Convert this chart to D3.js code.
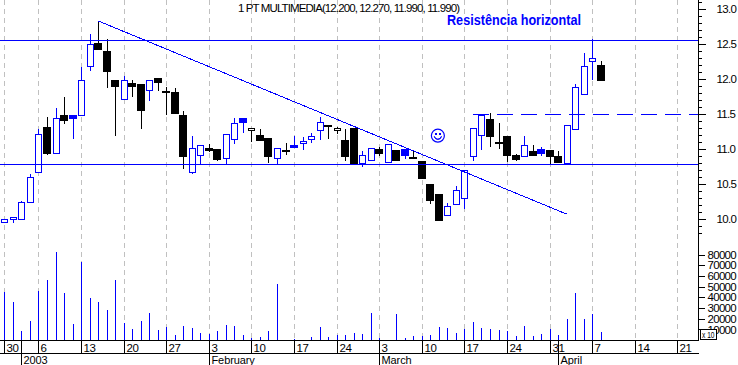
<!DOCTYPE html>
<html><head><meta charset="utf-8">
<script src="https://cdn.jsdelivr.net/npm/d3@7"></script>
<style>
html,body{margin:0;padding:0;background:#fff;overflow:hidden}
svg{display:block}
text{font-family:"Liberation Sans",Arial,sans-serif;fill:#000}
</style></head><body>
<svg id="c" width="738" height="365"></svg>
<script>
const opens =[9.953,9.996,9.996,10.24,10.67,11.31,10.94,11.49,11.445,11.48,12.19,12.51,12.40,11.99,11.72,11.95,11.93,11.85,12.02,11.83,11.81,11.49,10.67,10.91,11.01,11.0,10.865,11.14,11.39,
 11.265,11.198,11.155,10.875,10.99,11.03,11.08,11.146,11.265,11.35,11.265,11.135,11.30,10.80,10.85,11.0,10.81,10.98,10.91,10.88,10.827,10.50,10.358,10.05,10.215,10.30,10.894,11.207,11.426,
 11.095,11.18,10.91,10.895,10.97,10.94,10.985,10.90,10.80,11.29,11.79,12.26,12.20];
const closes=[9.996,10.025,10.24,10.595,11.21,10.94,11.44,11.42,11.49,11.99,12.50,12.43,12.11,11.90,11.99,11.90,11.55,11.99,11.96,11.82,11.52,10.90,11.02,11.05,10.985,10.86,11.21,11.365,11.44,
 11.293,11.127,10.90,11.008,10.97,11.05,11.12,11.18,11.38,11.335,11.293,10.90,10.80,10.91,11.008,10.946,11.065,10.846,10.994,10.875,10.59,10.277,9.99,10.18,10.41,10.695,11.293,11.483,11.19,
 11.08,10.92,10.86,11.05,10.91,10.995,10.90,10.82,11.35,11.89,12.19,12.30,11.99];
const highs =[9.996,10.025,10.27,10.66,11.30,11.47,11.60,11.75,11.49,12.19,12.65,12.83,12.58,12.0,12.05,12.0,11.95,11.99,12.02,11.90,11.88,11.55,11.2,11.05,11.08,11.01,11.21,11.455,11.44,
 11.293,11.30,11.155,11.008,11.10,11.2,11.18,11.24,11.47,11.35,11.325,11.30,11.30,10.99,11.008,11.04,11.065,10.98,11.02,10.994,10.827,10.50,10.358,10.25,10.486,10.695,11.293,11.483,11.526,
 11.38,11.18,10.94,11.2,11.07,11.04,10.995,10.985,11.35,11.95,12.38,12.58,12.27];
const lows  =[9.953,9.963,9.996,10.24,10.67,10.93,10.94,11.37,11.16,11.48,12.13,12.43,11.88,11.2,11.72,11.75,11.30,11.70,11.84,11.5,11.52,10.73,10.65,10.80,10.97,10.85,10.80,11.09,11.245,
 11.12,11.127,10.82,10.80,10.93,11.03,11.0,11.10,11.146,11.155,11.23,10.85,10.80,10.76,10.85,10.91,10.81,10.846,10.866,10.875,10.59,10.235,9.99,10.05,10.215,10.163,10.85,11.0,11.046,
 11.01,10.83,10.84,10.895,10.91,10.92,10.80,10.82,10.80,11.29,11.79,11.995,11.99];
const kinds =["uuuuu","d","u","d","f","uu","ddd","u","dd","u","dddd","uu","dd","uu","f",
 "h","dd","u","d","f","uuu","d","h","dd","uu","d","u","d","f","dddd","uuuuu","d",
 "ddd","u","d","f","dd","uuuu","d"].join("");
const volumes=[45000,35400,8400,17700,45650,55900,82000,43800,14900,72700,39100,35400,28000,55900,15800,10200,17700,25200,9300,12100,4700,13000,11200,6500,5600,8400,14000,13000,4700,
 1600,2800,8400,52200,0,900,0,2800,12100,2800,4700,4700,6500,5600,25200,1900,0,24200,1900,3700,3700,4700,12100,11200,6500,10200,16800,11200,10200,
 9300,8400,3700,13000,3700,5600,10200,4700,19600,43800,19600,24200,7500];
const weekIndex =[0,4,9,14,19,24,29,34,39,44,49,54,59,64,69,74,79];
const weekLabels=["30","6","13","20","27","3","10","17","24","3","10","17","24","31","7","14","21"];
const monthIndex =[2,24,44,65];
const monthLabels=["2003","February","March","April"];
const priceTicks=[10,10.5,11,11.5,12,12.5,13];
const minorPriceTicks=d3.range(98,132).map(d=>d/10);
const volumeTicks=[10000,20000,30000,40000,50000,60000,70000,80000];
const hLevels=[12.55,10.78];
const dashedLevel={from:55,value:11.5};
const trend=[{i:11,v:12.83},{i:66,v:10.07}];
const smile={i:51,v:11.19};
const titleText="1 PT MULTIMEDIA(12.200, 12.270, 11.990, 11.990)";
const noteText="Resistência horizontal";

const BLUE="#0000ff", W=699, BASE=340;
const svg=d3.select("#c");
const x=d3.scaleLinear().domain([0,79]).range([4.4,677.4]);
const y=d3.scaleLinear().domain([10,13]).range([219,9]);
const v=d3.scaleLinear().domain([0,80000]).range([BASE,254.5]);
const px=i=>Math.round(x(i))+0.5;
const py=d=>Math.round(y(d))+0.5;

svg.append("g").selectAll("line").data(weekIndex).join("line")
 .attr("x1",px).attr("x2",px).attr("y1",0).attr("y2",BASE)
 .attr("stroke","#c0c0c0").attr("stroke-dasharray","5,4");

// volume
svg.append("g").selectAll("line").data(volumes).join("line")
 .attr("x1",(d,i)=>px(i)).attr("x2",(d,i)=>px(i))
 .attr("y1",BASE).attr("y2",d=>Math.round(v(d)))
 .attr("stroke",BLUE);

// candles
const idx=d3.range(opens.length);
const colour=i=>(kinds[i]==="u"||kinds[i]==="f")?BLUE:"#000";
const cg=svg.append("g");
cg.selectAll("line").data(idx).join("line")
 .attr("x1",px).attr("x2",px)
 .attr("y1",i=>py(highs[i])).attr("y2",i=>py(lows[i]))
 .attr("stroke",colour);
cg.selectAll("rect").data(idx).join("rect")
 .attr("x",i=>{const w=(kinds[i]==="d"||kinds[i]==="f")?4:3;return px(i)-w;})
 .attr("width",i=>(kinds[i]==="d"||kinds[i]==="f")?7:6)
 .attr("y",i=>py(Math.max(opens[i],closes[i])))
 .attr("height",i=>Math.max(1,py(Math.min(opens[i],closes[i]))-py(Math.max(opens[i],closes[i]))))
 .attr("fill",i=>kinds[i]==="d"?"#000":kinds[i]==="f"?BLUE:"#fff")
 .attr("stroke",colour);

// trend and levels
svg.append("g").selectAll("line").data(hLevels).join("line")
 .attr("x1",0).attr("x2",W).attr("y1",py).attr("y2",py).attr("stroke",BLUE);
svg.append("line").attr("x1",x(trend[0].i)).attr("y1",y(trend[0].v))
 .attr("x2",x(trend[1].i)).attr("y2",y(trend[1].v)).attr("stroke",BLUE);
svg.append("line").attr("x1",x(dashedLevel.from)).attr("x2",W)
 .attr("y1",py(dashedLevel.value)).attr("y2",py(dashedLevel.value))
 .attr("stroke",BLUE).attr("stroke-dasharray","16,8");

// smiley
const sm=svg.append("g").attr("transform",`translate(${x(smile.i)-1},${y(smile.v)})`)
 .attr("fill","none").attr("stroke",BLUE);
sm.append("circle").attr("r",6.5).attr("stroke-width",1.2);
sm.append("path").attr("d",d3.arc()({innerRadius:3.6,outerRadius:3.6,startAngle:Math.PI/2+0.2,endAngle:Math.PI*1.5-0.2}));
sm.selectAll("rect").data([-2.5,1.5]).join("rect").attr("x",d=>d).attr("y",-3).attr("width",1.5).attr("height",2)
 .attr("fill",BLUE).attr("stroke","none");

// right axes
const axisG=svg.append("g").attr("transform",`translate(${W-0.5},0)`);
axisG.append("line").attr("y1",0).attr("y2",BASE).attr("stroke","#000");
const minorAxis=d3.axisRight(y).tickValues(minorPriceTicks).tickSize(3).tickFormat("");
const pa=axisG.append("g").call(minorAxis);
pa.select(".domain").remove();
const majorAxis=d3.axisRight(y).tickValues(priceTicks).tickSize(7).tickPadding(11).tickFormat(d3.format(".1f"));
const pb=axisG.append("g").call(majorAxis);
pb.select(".domain").remove();
const volAxis=d3.axisRight(v).tickValues(volumeTicks).tickSize(6).tickPadding(3).tickFormat(d3.format("d"));
const vb=axisG.append("g").call(volAxis);
vb.select(".domain").remove();
axisG.selectAll("text").attr("font-size",11.5).attr("letter-spacing","-0.7px").attr("font-family",'"Liberation Sans"');
axisG.selectAll("line").attr("shape-rendering","crispEdges");

// x10 box
svg.append("rect").attr("x",700.5).attr("y",329.5).attr("width",16).attr("height",10).attr("fill","#fff").attr("stroke","#000");
svg.append("text").attr("x",702).attr("y",338).attr("font-size",9).attr("textLength",12.5).attr("lengthAdjust","spacingAndGlyphs").text("x 10");

// bottom date axis
const bottom=svg.append("g").attr("transform",`translate(0,${BASE+0.5})`);
const dateAxis=d3.axisBottom(x).tickValues(weekIndex).tickSize(12.5).tickFormat((d,i)=>weekLabels[i]);
const db=bottom.call(dateAxis);
db.select(".domain").remove();
db.selectAll(".tick").attr("transform",d=>`translate(${px(d)},0)`);
db.selectAll("text").attr("text-anchor","start").attr("x",2).attr("y",3).attr("dy","0.71em").attr("font-size",11.5).attr("letter-spacing","-0.4px").attr("font-family",'"Liberation Sans"');
svg.append("line").attr("x1",0).attr("x2",W).attr("y1",BASE+.5).attr("y2",BASE+.5).attr("stroke","#000");
svg.append("line").attr("x1",0).attr("x2",W-.5).attr("y1",353.5).attr("y2",353.5).attr("stroke","#000");
svg.append("g").selectAll("line").data(monthIndex).join("line")
 .attr("x1",d=>px(d)).attr("x2",d=>px(d)).attr("y1",BASE).attr("y2",365).attr("stroke","#000");
svg.append("g").selectAll("text").data(monthLabels).join("text")
 .attr("x",(d,i)=>px(monthIndex[i])+2).attr("y",364).attr("font-size",11).attr("letter-spacing","-0.1px").text(d=>d);

svg.append("text").attr("x",238).attr("y",12).attr("font-size",11.5).attr("textLength",222).attr("lengthAdjust","spacing").text(titleText);
svg.append("text").attr("x",447).attr("y",25).attr("font-size",14).attr("font-weight","bold").style("fill",BLUE)
 .attr("textLength",134).attr("lengthAdjust","spacingAndGlyphs").text(noteText);
svg.selectAll("line,rect").attr("shape-rendering",function(){return this.getAttribute("shape-rendering")||"crispEdges";});
</script>
</body></html>
